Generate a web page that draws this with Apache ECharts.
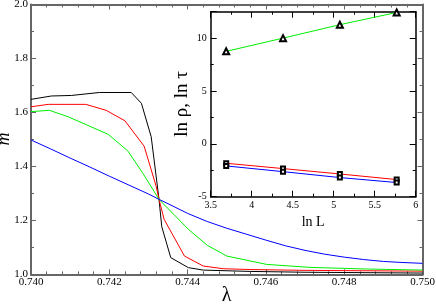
<!DOCTYPE html>
<html><head><meta charset="utf-8">
<script src="https://cdn.jsdelivr.net/npm/echarts@6/dist/echarts.min.js"></script>
<style>html,body{margin:0;padding:0;background:#fff}#c{width:436px;height:306px}</style>
</head><body><div id="c"></div>
<script>
// Main panel data: lambda vs m
const lamBlack = [0.7400,0.74052,0.74103,0.74175,0.74256,0.74282,0.74307,0.74327,0.74334,0.74357,0.74402,0.7444,0.7456,0.7470,0.7500];
const mBlack   = [1.6485,1.661,1.663,1.674,1.674,1.634,1.510,1.278,1.177,1.062,1.025,1.016,1.011,1.008,1.005];
const lamRed = [0.7400,0.74044,0.7414,0.74192,0.7424,0.74289,0.7432,0.74327,0.7434,0.74392,0.7444,0.74491,0.7456,0.7470,0.7500];
const mRed   = [1.621,1.630,1.630,1.608,1.569,1.475,1.325,1.278,1.204,1.068,1.031,1.021,1.018,1.015,1.012];
const lamGreen = [0.7400,0.74047,0.74095,0.74197,0.74247,0.74286,0.74327,0.74402,0.7445,0.7450,0.74602,0.74713,0.74857,0.7500];
const mGreen   = [1.603,1.608,1.584,1.519,1.458,1.374,1.278,1.167,1.108,1.068,1.037,1.026,1.020,1.016];
const lamBlue = [0.7400,0.7405,0.7410,0.7415,0.7420,0.7425,0.7430,0.74327,0.7435,0.7440,0.7445,0.7450,0.7455,0.7460,0.7465,0.7470,0.7475,0.7480,0.7485,0.7490,0.7495,0.7500];
const mBlue   = [1.498,1.465,1.431,1.398,1.364,1.331,1.298,1.278,1.262,1.226,1.196,1.171,1.149,1.127,1.106,1.089,1.075,1.064,1.055,1.048,1.044,1.041];

// Inset data: ln L vs ln rho, ln tau
const lnL = [3.689,4.382,5.075,5.768];
const lnTau = [8.75,10.0,11.27,12.43];
const lnRhoRed = [-1.84,-2.34,-2.85,-3.38];
const lnRhoBlue = [-2.09,-2.63,-3.19,-3.66];

// tick settings
const mainXTicks = {min:0.740, max:0.750, interval:0.002};
const mainYTicks = {min:1.0, max:2.0, interval:0.2};
const insetXTicks = {min:3.5, max:6, interval:0.5};
const insetYTicks = {min:-5, max:12.5, interval:5};

const zip = (a,b)=>a.map((v,i)=>[v,b[i]]);
const serif = "'Liberation Serif','DejaVu Serif',serif";
const mainAxisColor = '#666';

function mainAxis(extra, ticks, showLabel, fmt, minorSplit){
  return Object.assign({
    type:'value', min:ticks.min, max:ticks.max, interval:ticks.interval,
    axisLine:{show:true, onZero:false, lineStyle:{color:mainAxisColor, width:2}},
    axisTick:{show:true, inside:true, length:5, lineStyle:{color:mainAxisColor, width:1}},
    minorTick:{show:true, splitNumber:minorSplit, length:3, lineStyle:{color:mainAxisColor, width:1}},
    splitLine:{show:false},
    axisLabel:{show:showLabel, color:'#000', fontFamily:serif, fontSize:11, formatter:fmt}
  }, extra);
}
function insetAxis(extra, ticks, showLabel, minorSplit, showMax){
  return Object.assign({
    type:'value', min:ticks.min, max:ticks.max, interval:ticks.interval,
    axisLine:{show:true, onZero:false, lineStyle:{color:'#000', width:1.5}},
    axisTick:{show:true, inside:true, length:6, lineStyle:{color:'#000', width:1}},
    minorTick:{show:true, splitNumber:minorSplit, length:3, lineStyle:{color:'#000', width:1}},
    splitLine:{show:false},
    axisLabel:{show:showLabel, color:'#000', fontFamily:serif, fontSize:10, showMaxLabel:showMax, margin:4}
  }, extra);
}

const chart = echarts.init(document.getElementById('c'), null, {renderer:'canvas'});
const option = {
  animation:false,
  backgroundColor:'#fff',
  grid:[
    {left:31, right:13.5, top:4.5, bottom:31.6, containLabel:false, outerBoundsMode:'none'},
    {left:210.7, right:20.3, top:11.7, bottom:109.3, show:true, backgroundColor:'#fff', borderWidth:0, z:5,
      containLabel:false, outerBoundsMode:'none'}
  ],
  graphic:[
    {type:'text', x:4, y:139, rotation:Math.PI/2, z:10,
      style:{text:'m', fill:'#000', font:'italic 18px ' + serif, textAlign:'center', textVerticalAlign:'middle'}},
    {type:'text', x:182, y:104, rotation:Math.PI/2, z:10,
      style:{text:'ln ρ, ln τ', fill:'#000', font:'19px ' + serif, textAlign:'center', textVerticalAlign:'middle'}},
    {type:'text', x:226.7, y:296, z:10,
      style:{text:'λ', fill:'#000', font:'20px ' + serif, textAlign:'center', textVerticalAlign:'middle'}}
  ],
  xAxis:[
    mainAxis({gridIndex:0, position:'bottom',
      axisLabel:{show:true, color:'#000', fontFamily:serif, fontSize:11, margin:2, formatter:v=>v.toFixed(3)}},
      mainXTicks, true, null, 5),
    mainAxis({gridIndex:0, position:'top'}, mainXTicks, false, null, 5),
    insetAxis({gridIndex:1, position:'bottom', name:'ln L', nameLocation:'middle', nameGap:16,
      nameTextStyle:{fontFamily:serif, fontSize:14, color:'#000', verticalAlign:'top'}, z:6}, insetXTicks, true, 2, true),
    insetAxis({gridIndex:1, position:'top', z:6}, insetXTicks, false, 2, false)
  ],
  yAxis:[
    mainAxis({gridIndex:0, position:'left',
      axisLabel:{show:true, color:'#000', fontFamily:serif, fontSize:11, margin:3, formatter:v=>v.toFixed(1)}},
      mainYTicks, true, null, 2),
    mainAxis({gridIndex:0, position:'right'}, mainYTicks, false, null, 2),
    insetAxis({gridIndex:1, position:'left', z:6}, insetYTicks, true, 2, false),
    insetAxis({gridIndex:1, position:'right', z:6}, insetYTicks, false, 2, false)
  ],
  series:[
    {type:'line', xAxisIndex:0, yAxisIndex:0, data:zip(lamBlack,mBlack), showSymbol:false, lineStyle:{color:'#000', width:1}, z:2},
    {type:'line', xAxisIndex:0, yAxisIndex:0, data:zip(lamRed,mRed), showSymbol:false, lineStyle:{color:'#ff0000', width:1}, z:2},
    {type:'line', xAxisIndex:0, yAxisIndex:0, data:zip(lamGreen,mGreen), showSymbol:false, lineStyle:{color:'#00ee00', width:1}, z:2},
    {type:'line', xAxisIndex:0, yAxisIndex:0, data:zip(lamBlue,mBlue), showSymbol:false, lineStyle:{color:'#0000ff', width:1}, z:2},
    {type:'line', xAxisIndex:2, yAxisIndex:2, data:zip(lnL,lnTau), symbol:'emptyTriangle', symbolSize:6,
      lineStyle:{color:'#00ee00', width:1}, itemStyle:{color:'#000', borderColor:'#000', borderWidth:0.6}, z:7},
    {type:'line', xAxisIndex:2, yAxisIndex:2, data:zip(lnL,lnRhoRed), symbol:'emptyRect', symbolSize:4,
      lineStyle:{color:'#ff0000', width:1}, itemStyle:{color:'#000', borderColor:'#000', borderWidth:0.6}, z:7},
    {type:'line', xAxisIndex:2, yAxisIndex:2, data:zip(lnL,lnRhoBlue), symbol:'emptyRect', symbolSize:4,
      lineStyle:{color:'#0000ff', width:1}, itemStyle:{color:'#000', borderColor:'#000', borderWidth:0.6}, z:7}
  ]
};
chart.setOption(option);
</script>
</body></html>
